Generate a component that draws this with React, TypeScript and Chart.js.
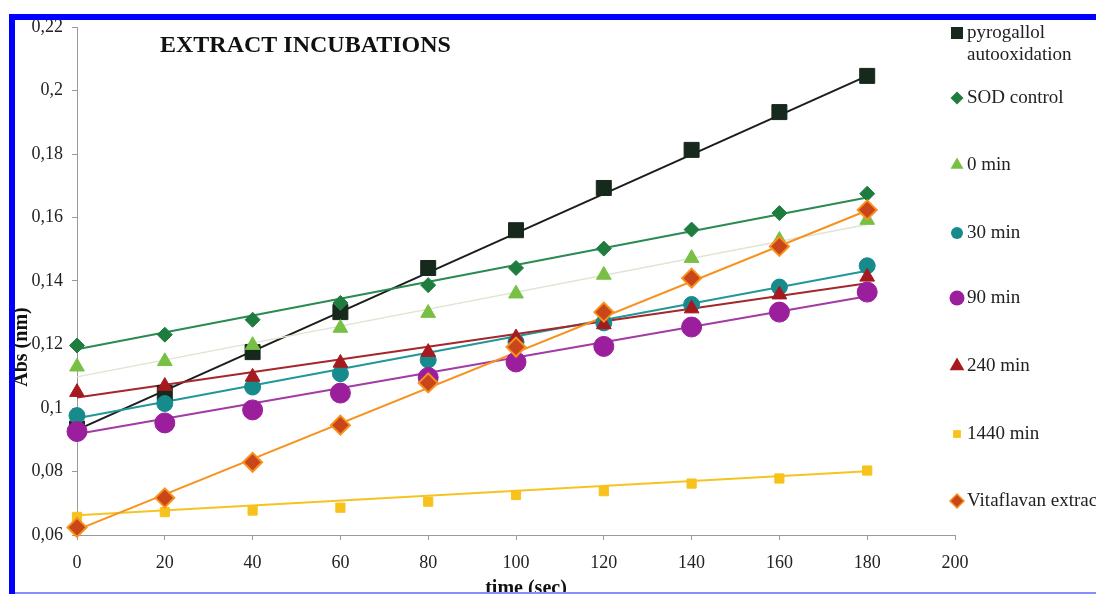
import React, { useEffect, useRef } from 'react';
import { Chart, registerables } from 'chart.js';

Chart.register(...registerables);

// ---- data ----
const times = [0, 20, 40, 60, 80, 100, 120, 140, 160, 180];
const seriesNames = ['pyrogallol autooxidation', 'SOD control', '0 min', '30 min', '90 min', '240 min', '1440 min', 'Vitaflavan extract'];
const pyrogallol = [0.0935, 0.1047, 0.1176, 0.1302, 0.1441, 0.156, 0.1693, 0.1813, 0.1932, 0.2046];
const sodControl = [0.1197, 0.1231, 0.1278, 0.1331, 0.1387, 0.1441, 0.1502, 0.1562, 0.1614, 0.1675];
const min0 = [0.113, 0.1147, 0.1198, 0.1252, 0.1299, 0.136, 0.1419, 0.1472, 0.1529, 0.1592];
const min30 = [0.0976, 0.1014, 0.1066, 0.1108, 0.1151, 0.1208, 0.1268, 0.1326, 0.1381, 0.1448];
const min90 = [0.0926, 0.0953, 0.0994, 0.1047, 0.1096, 0.1145, 0.1194, 0.1255, 0.1302, 0.1365];
const min240 = [0.105, 0.1069, 0.1098, 0.1142, 0.1176, 0.1222, 0.1263, 0.1313, 0.1357, 0.1413];
const min1440 = [0.0657, 0.0672, 0.0677, 0.0686, 0.0705, 0.0726, 0.0738, 0.0762, 0.0778, 0.0803];
const vitaflavan = [0.0624, 0.0717, 0.0829, 0.0946, 0.1079, 0.1192, 0.1302, 0.1409, 0.1509, 0.1624];

// linear trend lines: value at first and last time
const trendTimes = [0, 180];
const pyrogallolTrend = [0.0931, 0.2046];
const sodControlTrend = [0.1185, 0.1663];
const min0Trend = [0.1098, 0.1578];
const min30Trend = [0.0968, 0.1432];
const min90Trend = [0.0918, 0.1352];
const min240Trend = [0.1033, 0.1393];
const min1440Trend = [0.0662, 0.0801];
const vitaflavanTrend = [0.0616, 0.1622];

const chartTitle = 'EXTRACT INCUBATIONS';
const xTitle = 'time (sec)';
const yTitle = 'Abs (nm)';

// ---- styles ----
const SERIF = "'Liberation Serif', 'Times New Roman', serif";
const styles = [
  { shape: 'rect', r: 10.6, fill: '#17281c', border: '#17281c', bw: 1, line: '#1c1c1c', lw: 2, lr: 8.5 },
  { shape: 'rectRot', r: 7.5, fill: '#1f7c3f', border: '#1f7c3f', bw: 1, line: '#2a8a52', lw: 2, lr: 6.5 },
  { shape: 'triangle', r: 8.5, fill: '#77c043', border: '#77c043', bw: 1, line: '#dfe5d2', lw: 1.5, lr: 7.5 },
  { shape: 'circle', r: 8, fill: '#178a8c', border: '#178a8c', bw: 1, line: '#22979a', lw: 2, lr: 6 },
  { shape: 'circle', r: 10, fill: '#9b1e9d', border: '#9b1e9d', bw: 1, line: '#a23ba3', lw: 2, lr: 7.5 },
  { shape: 'triangle', r: 8.5, fill: '#a5191f', border: '#a5191f', bw: 1, line: '#a5262b', lw: 2, lr: 8.5 },
  { shape: 'rect', r: 6.5, fill: '#f8c21c', border: '#f8c21c', bw: 1, line: '#f5c422', lw: 2, lr: 5.5 },
  { shape: 'rectRot', r: 9.5, fill: '#c8461a', border: '#f7921e', bw: 2, line: '#f7921e', lw: 2, lr: 7 },
];
const legendRows = [
  { y: 33, lines: ['pyrogallol', 'autooxidation'] },
  { y: 98, lines: ['SOD control'] },
  { y: 165, lines: ['0 min'] },
  { y: 233, lines: ['30 min'] },
  { y: 298, lines: ['90 min'] },
  { y: 366, lines: ['240 min'] },
  { y: 434, lines: ['1440 min'] },
  { y: 501, lines: ['Vitaflavan extract'] },
];

function drawMarker(ctx: CanvasRenderingContext2D, shape: string, x: number, y: number, r: number) {
  ctx.beginPath();
  if (shape === 'rect') {
    const s = Math.SQRT1_2 * r;
    ctx.rect(x - s, y - s, 2 * s, 2 * s);
  } else if (shape === 'rectRot') {
    ctx.moveTo(x - r, y);
    ctx.lineTo(x, y - r);
    ctx.lineTo(x + r, y);
    ctx.lineTo(x, y + r);
    ctx.closePath();
  } else if (shape === 'triangle') {
    ctx.moveTo(x, y - r);
    ctx.lineTo(x + Math.sin(2 * Math.PI / 3) * r, y + 0.5 * r);
    ctx.lineTo(x - Math.sin(2 * Math.PI / 3) * r, y + 0.5 * r);
    ctx.closePath();
  } else {
    ctx.arc(x, y, r, 0, Math.PI * 2);
  }
}

const decorPlugin = {
  id: 'decor',
  afterDraw(chart: any) {
    const ctx: CanvasRenderingContext2D = chart.ctx;
    ctx.save();
    // title
    ctx.fillStyle = '#111';
    ctx.font = `bold 24px ${SERIF}`;
    ctx.textAlign = 'left';
    ctx.textBaseline = 'alphabetic';
    ctx.fillText(chartTitle, 160, 52);
    // axis titles
    ctx.font = `bold 20px ${SERIF}`;
    ctx.textAlign = 'center';
    ctx.textBaseline = 'middle';
    ctx.fillText(xTitle, 526, 589);
    ctx.save();
    ctx.translate(22, 347);
    ctx.rotate(-Math.PI / 2);
    ctx.fillText(yTitle, 0, 0);
    ctx.restore();
    // legend
    ctx.textAlign = 'left';
    ctx.font = `19px ${SERIF}`;
    legendRows.forEach((row, i) => {
      const st = styles[i];
      drawMarker(ctx, st.shape, 957, row.y, st.lr);
      ctx.fillStyle = st.fill;
      ctx.fill();
      if (st.bw > 1) {
        ctx.strokeStyle = st.border;
        ctx.lineWidth = 1.5;
        ctx.stroke();
      }
      ctx.fillStyle = '#222';
      row.lines.forEach((t, k) => {
        ctx.fillText(t, 967, row.y + k * 22);
      });
    });
    // frame
    ctx.fillStyle = '#0000ff';
    ctx.fillRect(9, 14, 6, 594 - 14);
    ctx.fillRect(9, 14, 1096 - 9, 6);
    ctx.fillStyle = '#8a8aff';
    ctx.fillRect(15, 592, 1096 - 15, 2);
    ctx.restore();
  },
};

export default function App() {
  const ref = useRef<HTMLCanvasElement>(null);
  useEffect(() => {
    if (!ref.current) return;
    const values = [pyrogallol, sodControl, min0, min30, min90, min240, min1440, vitaflavan];
    const trends = [pyrogallolTrend, sodControlTrend, min0Trend, min30Trend, min90Trend, min240Trend, min1440Trend, vitaflavanTrend];
    const markerSets = values.map((arr, i) => ({
      label: seriesNames[i],
      data: times.map((t, k) => ({ x: t, y: arr[k] })),
      showLine: false,
      clip: false,
      pointStyle: styles[i].shape,
      pointRadius: styles[i].r,
      pointHoverRadius: styles[i].r,
      backgroundColor: styles[i].fill,
      borderColor: styles[i].border,
      pointBorderWidth: styles[i].bw,
      order: 10 - i,
    }));
    const trendSets = trends.map((arr, i) => ({
      label: seriesNames[i] + ' trend',
      data: trendTimes.map((t, k) => ({ x: t, y: arr[k] })),
      showLine: true,
      clip: false,
      pointRadius: 0,
      borderColor: styles[i].line,
      borderWidth: styles[i].lw,
      backgroundColor: styles[i].line,
      order: 40 - i,
    }));
    const tickFont = { family: SERIF, size: 18 };
    const chart = new Chart(ref.current, {
      type: 'scatter',
      data: { datasets: [...markerSets, ...trendSets] as any },
      options: {
        responsive: false,
        animation: false,
        devicePixelRatio: 1,
        layout: { padding: { left: 0, right: 141, top: 27, bottom: 0 } },
        plugins: { legend: { display: false }, tooltip: { enabled: false } },
        scales: {
          x: {
            type: 'linear',
            min: 0,
            max: 200,
            ticks: { stepSize: 20, font: tickFont, color: '#222', padding: 12, maxRotation: 0, autoSkip: false },
            grid: { drawOnChartArea: false, tickLength: 5, color: '#9a9a9a' },
            border: { color: '#9a9a9a' },
            afterFit: (s: any) => { s.height = 59; },
          },
          y: {
            type: 'linear',
            min: 0.06,
            max: 0.22,
            ticks: {
              stepSize: 0.02,
              font: tickFont,
              color: '#222',
              padding: 9,
              callback: (v: any) => (Math.round(Number(v) * 100) / 100).toString().replace('.', ','),
            },
            grid: { drawOnChartArea: false, tickLength: 5, color: '#9a9a9a' },
            border: { color: '#9a9a9a' },
            afterFit: (s: any) => { s.width = 77; },
          },
        },
      } as any,
      plugins: [decorPlugin],
    });
    return () => chart.destroy();
  }, []);
  return (
    <div style={{ position: 'absolute', left: 0, top: 0, width: 1096, height: 594, background: '#fff' }}>
      <canvas ref={ref} width={1096} height={594} style={{ display: 'block' }} />
    </div>
  );
}
